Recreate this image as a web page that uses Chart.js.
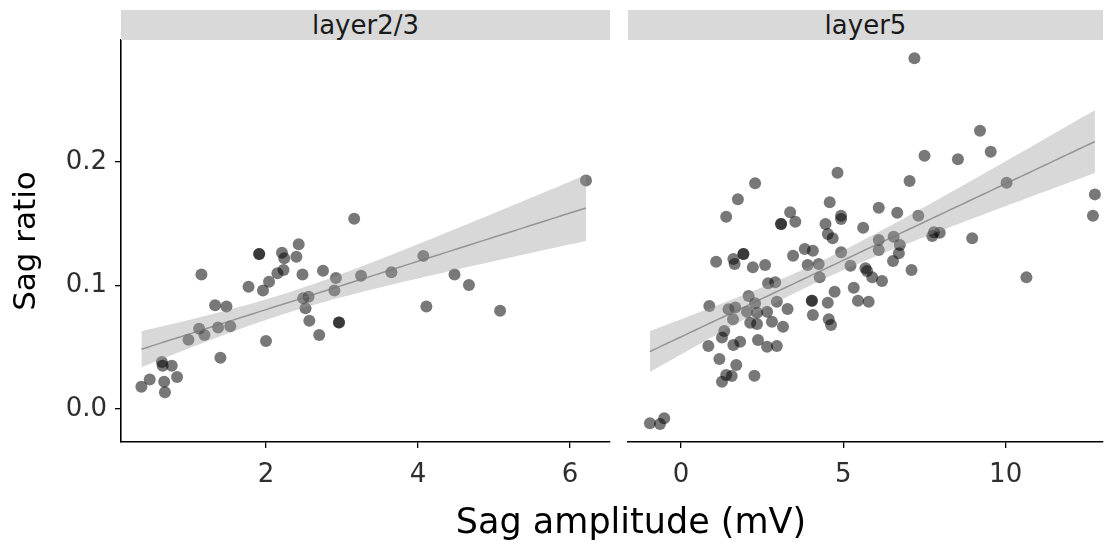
<!DOCTYPE html>
<html><head><meta charset="utf-8">
<script src="https://cdn.jsdelivr.net/npm/chart.js@4/dist/chart.umd.min.js"></script>
<style>
html,body{margin:0;padding:0;background:#fff;}
body{width:1105px;height:544px;overflow:hidden;position:relative;font-family:"DejaVu Sans",sans-serif;}
#w1{position:absolute;left:0;top:0;width:612px;height:544px;}
#w2{position:absolute;left:612px;top:0;width:493px;height:544px;}
.strip{position:absolute;top:10px;height:30px;background:#d9d9d9;color:#1a1a1a;font-size:26px;line-height:30px;text-align:center;white-space:nowrap;}
#xt{position:absolute;left:131px;width:1000px;top:504px;height:34px;line-height:34px;text-align:center;font-size:35px;color:#000;white-space:nowrap;}
</style></head>
<body>
<div id="w1"><canvas id="c1" width="612" height="544"></canvas></div>
<div id="w2"><canvas id="c2" width="493" height="544"></canvas></div>
<div class="strip" id="s1" style="left:121px;width:489px;"></div>
<div class="strip" id="s2" style="left:628px;width:475px;"></div>
<div id="xt"></div>
<script>
// ---- data ----
const panelTitles = ['layer2/3', 'layer5'];
const xAxisTitle = 'Sag amplitude (mV)';
const yAxisTitle = 'Sag ratio';
const yTicks = [0, 0.1, 0.2];
const layer23Ticks = [2, 4, 6];
const layer5Ticks = [0, 5, 10];

const layer23X = [0.36,0.47,0.67,0.66,0.63,0.64,0.76,0.83,0.98,1.12,1.19,1.15,1.33,1.48,1.37,1.53,1.40,1.77,1.91,1.91,2.21,2.43,2.40,2.24,2.23,2.15,2.04,1.96,2.00,2.48,2.75,2.92,3.25,2.90,2.49,2.56,2.52,2.57,2.96,2.96,2.70,3.16,3.65,4.07,4.48,4.67,4.11,5.08,6.21];
const layer23Y = [0.018,0.024,0.0135,0.022,0.038,0.035,0.035,0.026,0.056,0.065,0.060,0.109,0.084,0.083,0.066,0.067,0.0415,0.099,0.1255,0.1255,0.1266,0.1334,0.1233,0.122,0.1126,0.110,0.103,0.096,0.055,0.109,0.112,0.106,0.108,0.096,0.0896,0.091,0.0815,0.0715,0.070,0.070,0.060,0.154,0.1107,0.124,0.109,0.1004,0.083,0.0796,0.185];

const layer5X = [7.19,9.21,7.50,8.53,9.54,7.04,10.03,12.75,12.69,6.09,6.66,7.31,5.61,7.79,7.97,7.74,8.97,6.09,6.09,6.55,6.74,6.71,6.53,7.10,5.73,5.89,6.19,10.64,5.32,4.82,2.28,1.75,1.39,4.58,3.36,3.08,3.08,3.52,4.93,4.93,4.45,4.52,4.67,4.93,3.81,4.06,3.45,1.08,1.61,1.92,1.92,1.65,2.21,2.59,3.90,4.24,4.27,5.22,5.68,2.68,2.90,4.73,5.45,5.78,0.87,1.46,1.67,1.60,2.08,2.28,2.03,2.34,2.65,2.95,3.28,2.80,3.14,2.13,2.34,4.03,4.03,4.06,4.52,4.55,4.62,1.33,1.26,0.84,1.61,1.82,2.37,2.65,2.95,1.18,1.70,1.39,1.56,1.26,2.26,-0.96,-0.65,-0.52];
const layer5Y = [0.284,0.2253,0.2051,0.2022,0.2083,0.1846,0.1832,0.1738,0.1565,0.163,0.159,0.1565,0.1468,0.1431,0.1428,0.140,0.1382,0.1368,0.1287,0.1395,0.1328,0.1261,0.1198,0.1126,0.1117,0.1066,0.1036,0.1066,0.0982,0.1913,0.1828,0.1698,0.1557,0.1674,0.1593,0.1498,0.1498,0.1517,0.1565,0.1538,0.1498,0.1417,0.1382,0.1269,0.1296,0.1282,0.1241,0.1193,0.1215,0.1255,0.1255,0.1174,0.1147,0.1166,0.1166,0.1174,0.1066,0.116,0.1139,0.1018,0.1026,0.095,0.0877,0.0869,0.0834,0.0807,0.0823,0.0726,0.0915,0.0856,0.0788,0.078,0.0788,0.0869,0.081,0.0707,0.0666,0.0699,0.0688,0.0877,0.0877,0.0761,0.0861,0.0726,0.068,0.0632,0.058,0.051,0.0518,0.0545,0.0559,0.0504,0.051,0.0405,0.0356,0.0275,0.0267,0.0221,0.027,-0.0116,-0.0121,-0.0075];

// ---- linear model fit with 95% confidence band (like geom_smooth(method = "lm")) ----
function tQuant(df){
  const z = 1.959964;
  return z + (z*z*z + z)/(4*df) + (5*Math.pow(z,5) + 16*z*z*z + 3*z)/(96*df*df);
}
function lmFit(xs, ys, nOut){
  const n = xs.length;
  const mx = xs.reduce((a,b)=>a+b,0)/n, my = ys.reduce((a,b)=>a+b,0)/n;
  let sxx=0, sxy=0;
  for(let i=0;i<n;i++){ sxx += (xs[i]-mx)**2; sxy += (xs[i]-mx)*(ys[i]-my); }
  const b = sxy/sxx, a = my - b*mx;
  let sse = 0;
  for(let i=0;i<n;i++){ sse += (ys[i]-a-b*xs[i])**2; }
  const s = Math.sqrt(sse/(n-2)), t = tQuant(n-2);
  const lo = Math.min(...xs), hi = Math.max(...xs);
  const fit=[], low=[], upp=[];
  for(let k=0;k<nOut;k++){
    const x = lo + (hi-lo)*k/(nOut-1);
    const yh = a + b*x;
    const se = s*Math.sqrt(1/n + (x-mx)**2/sxx);
    fit.push({x, y:yh}); low.push({x, y:yh - t*se}); upp.push({x, y:yh + t*se});
  }
  return {fit, low, upp};
}

const FONT = '"DejaVu Sans", sans-serif';
const tickColor = '#2e2e2e';

function makeChart(canvasId, xs, ys, xTicks, xMin, xMax, showY, padLeft){
  const pts = xs.map((x,i)=>({x, y:ys[i]}));
  const f = lmFit(xs, ys, 80);
  return new Chart(document.getElementById(canvasId), {
    type: 'scatter',
    data: { datasets: [
      { type:'line', data:f.fit, borderColor:'rgba(120,120,120,0.7)', borderWidth:1.5, pointRadius:0, fill:false, order:0 },
      { type:'line', data:f.low, borderWidth:0, borderColor:'rgba(0,0,0,0)', pointRadius:0, fill:false, order:1 },
      { type:'line', data:f.upp, borderWidth:0, borderColor:'rgba(0,0,0,0)', pointRadius:0, fill:'-1', backgroundColor:'rgba(153,153,153,0.38)', order:1 },
      { data:pts, pointRadius:6, pointBackgroundColor:'rgba(0,0,0,0.53)', pointBorderWidth:0, order:2 }
    ]},
    options: {
      responsive:false, animation:false, events:[],
      layout:{ autoPadding:false, padding:{ top:40, right:2, bottom:0, left:padLeft } },
      plugins:{ legend:{display:false}, tooltip:{enabled:false} },
      scales:{
        x:{ type:'linear', min:xMin, max:xMax,
          afterBuildTicks: s => { s.ticks = xTicks.map(v=>({value:v})); },
          afterFit: s => { s.height = 102; s.paddingLeft = 0; s.paddingRight = 0; },
          ticks:{ font:{family:FONT, size:26}, color:tickColor, padding:12, maxRotation:0, callback:v=>String(v) },
          grid:{ display:true, drawOnChartArea:false, drawTicks:true, tickLength:6, color:'#000', lineWidth:1.3 },
          border:{ display:true, color:'#000', width:1.6 }
        },
        y:{ type:'linear', min:-0.0267, max:0.2988, display:showY,
          afterBuildTicks: s => { s.ticks = yTicks.map(v=>({value:v})); },
          afterFit: s => { if (showY) { s.width = 121; } s.paddingTop = 0; s.paddingBottom = 0; },
          ticks:{ font:{family:FONT, size:26}, color:tickColor, padding:8, callback:v=>Number(v).toFixed(1) },
          grid:{ display:true, drawOnChartArea:false, drawTicks:true, tickLength:6, color:'#000', lineWidth:1.3 },
          border:{ display:true, color:'#000', width:1.6 },
          title:{ display:true, text:yAxisTitle, font:{family:FONT, size:31}, color:'#000', padding:{top:8, bottom:0} }
        }
      }
    }
  });
}

makeChart('c1', layer23X, layer23Y, layer23Ticks, 0.092, 6.526, true, 0);
makeChart('c2', layer5X, layer5Y, layer5Ticks, -1.636, 13.0, false, 16);
document.getElementById('s1').textContent = panelTitles[0];
document.getElementById('s2').textContent = panelTitles[1];
document.getElementById('xt').textContent = xAxisTitle;
</script>
</body></html>
